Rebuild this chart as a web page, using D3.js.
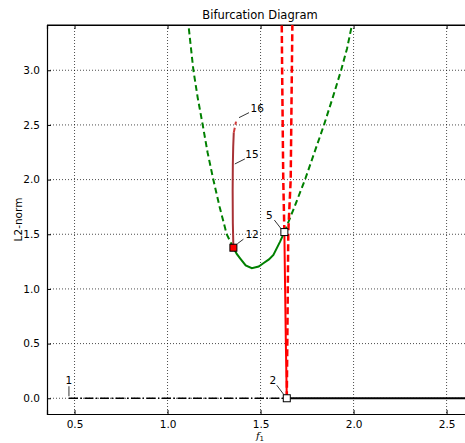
<!DOCTYPE html>
<html>
<head>
<meta charset="utf-8">
<script src="https://cdn.jsdelivr.net/npm/d3@7"></script>
<style>
    body { margin: 0; background: #fff; }
    text { font-family: "DejaVu Sans", sans-serif; fill: #000; }
</style>
</head>
<body>
<svg id="chart" width="465" height="443"></svg>
<script>
// Branch data (f1, L2-norm)
const trivialUnstableF = [0.47, 1.641];
const trivialUnstableN = [0, 0];
const trivialStableF = [1.641, 2.7];
const trivialStableN = [0, 0];

const redSolidF = [1.641, 1.636, 1.632, 1.628];
const redSolidN = [0, 0.5, 1.0, 1.52];
const redDashLeftF = [1.628, 1.622, 1.619, 1.616, 1.614];
const redDashLeftN = [1.52, 2.0, 2.5, 3.0, 3.42];
const redDashRightF = [1.641, 1.646, 1.649, 1.662, 1.667, 1.671];
const redDashRightN = [0, 0.9, 1.52, 2.0, 2.8, 3.42];

const greenSolidF = [1.354, 1.372, 1.39, 1.42, 1.453, 1.49, 1.515, 1.545, 1.569, 1.605, 1.628];
const greenSolidN = [1.377, 1.32, 1.28, 1.215, 1.189, 1.205, 1.235, 1.27, 1.311, 1.432, 1.52];
const greenDashLeftF = [1.354, 1.318, 1.28, 1.246, 1.215, 1.189, 1.162, 1.139, 1.112];
const greenDashLeftN = [1.377, 1.5, 1.75, 2.0, 2.25, 2.5, 2.75, 3.0, 3.42];
const greenDashRightF = [1.628, 1.68, 1.739, 1.79, 1.841, 1.888, 1.933, 1.965, 1.992];
const greenDashRightN = [1.52, 1.74, 2.0, 2.25, 2.5, 2.75, 3.0, 3.2, 3.42];

const brownSolidF = [1.354, 1.351, 1.350, 1.351, 1.353, 1.356];
const brownSolidN = [1.377, 1.6, 1.9, 2.143, 2.3, 2.43];
const brownDashF = [1.356, 1.368];
const brownDashN = [2.43, 2.53];

// Labelled points
const pointLabels = ["1", "2", "5", "12", "15", "16"];
const pointF = [0.47, 1.641, 1.628, 1.354, 1.351, 1.368];
const pointN = [0, 0, 1.52, 1.377, 2.143, 2.53];

// Axis ticks
const xTicks = [0.5, 1.0, 1.5, 2.0, 2.5];
const yTicks = [0.0, 0.5, 1.0, 1.5, 2.0, 2.5, 3.0];

const margin = { top: 25, left: 47, bottom: 29, right: -8 };
const width = 465 - margin.left - margin.right;
const height = 443 - margin.top - margin.bottom;

const svg = d3.select("#chart");
const g = svg.append("g")
    .attr("transform", `translate(${margin.left},${margin.top})`);

const x = d3.scaleLinear().domain([0.352, 2.642]).range([0, width]);
const y = d3.scaleLinear().domain([-0.144, 3.414]).range([height, 0]);

g.append("clipPath").attr("id", "clip")
    .append("rect").attr("width", width).attr("height", height);

// Grid
g.selectAll(".gx").data(xTicks).enter().append("line")
    .attr("x1", d => x(d)).attr("x2", d => x(d))
    .attr("y1", 0).attr("y2", height)
    .attr("stroke", "#000").attr("stroke-width", 0.7)
    .attr("stroke-dasharray", "1,2");
g.selectAll(".gy").data(yTicks).enter().append("line")
    .attr("x1", 0).attr("x2", width)
    .attr("y1", d => y(d)).attr("y2", d => y(d))
    .attr("stroke", "#000").attr("stroke-width", 0.7)
    .attr("stroke-dasharray", "1,2");

// Axes (ticks inside, classic style)
const xAxis = g.append("g").attr("transform", `translate(0,${height})`)
    .call(d3.axisBottom(x).tickValues(xTicks).tickSize(-4).tickPadding(7).tickFormat(d3.format(".1f")));
const xAxisTop = g.append("g")
    .call(d3.axisTop(x).tickValues(xTicks).tickSize(-4).tickFormat(""));
const yAxis = g.append("g")
    .call(d3.axisLeft(y).tickValues(yTicks).tickSize(-4).tickPadding(7).tickFormat(d3.format(".1f")));
[xAxis, xAxisTop, yAxis].forEach(a => {
    a.select(".domain").attr("stroke-width", 1.2);
    a.selectAll("text").attr("font-size", "10.5px").attr("font-family", "DejaVu Sans");
});
// top spine
g.append("line").attr("x1", 0).attr("x2", width).attr("y1", 0).attr("y2", 0)
    .attr("stroke", "#000").attr("stroke-width", 1.2);

const line = d3.line().x(d => x(d[0])).y(d => y(d[1]));
const zipped = (fs, ns) => fs.map((f, i) => [f, ns[i]]);

const plot = g.append("g").attr("clip-path", "url(#clip)");

function branch(fs, ns, color, w, dash) {
    plot.append("path")
        .datum(zipped(fs, ns))
        .attr("d", line)
        .attr("fill", "none")
        .attr("stroke", color)
        .attr("stroke-width", w)
        .attr("stroke-dasharray", dash || null);
}

branch(trivialUnstableF, trivialUnstableN, "#000", 1.5, "9,2.5,1.5,2.5");
branch(trivialStableF, trivialStableN, "#000", 2);
branch(greenDashLeftF, greenDashLeftN, "#008000", 2, "6,3.5");
branch(greenDashRightF, greenDashRightN, "#008000", 2, "6,3.5");
branch(greenSolidF, greenSolidN, "#008000", 2);
branch(redSolidF, redSolidN, "#ff0000", 2);
branch(redDashLeftF, redDashLeftN, "#ff0000", 2.5, "7,3.5");
branch(redDashRightF, redDashRightN, "#ff0000", 2.5, "7,3.5");
branch(brownSolidF, brownSolidN, "#a83236", 2);
branch(brownDashF, brownDashN, "#d03a3a", 2, "5,3");

// Label annotations: leader line start/end and text anchor, relative to the point
const labelOffsets = {
    "1":  { l: [0, -2, 0, -12], t: [0, -18], anchor: "middle" },
    "2":  { l: [-1, -1, -10, -13], t: [-14, -18], anchor: "middle" },
    "5":  { l: [-3, -3, -10, -12], t: [-15, -17], anchor: "middle" },
    "12": { l: [4, -4, 10, -8.5], t: [12, -13], anchor: "start" },
    "15": { l: [2, 0, 12, -5], t: [12.5, -10], anchor: "start" },
    "16": { l: [3, -4, 13, -9], t: [14.5, -13.5], anchor: "start" }
};

const labels = g.append("g");
pointLabels.forEach((lab, i) => {
    const px = x(pointF[i]), py = y(pointN[i]);
    const o = labelOffsets[lab];
    labels.append("line")
        .attr("x1", px + o.l[0]).attr("y1", py + o.l[1])
        .attr("x2", px + o.l[2]).attr("y2", py + o.l[3])
        .attr("stroke", "#000").attr("stroke-width", 0.8);
    labels.append("text")
        .attr("x", px + o.t[0]).attr("y", py + o.t[1])
        .attr("dy", "0.35em")
        .attr("text-anchor", o.anchor)
        .attr("font-size", "10.5px")
        .text(lab);
});

// Markers at special points
const markerFill = { "2": "#fff", "5": "#fff", "12": "#ff0000" };
Object.keys(markerFill).forEach(lab => {
    const i = pointLabels.indexOf(lab);
    g.append("rect")
        .attr("x", x(pointF[i]) - 3.5).attr("y", y(pointN[i]) - 3.5)
        .attr("width", 7).attr("height", 7)
        .attr("fill", markerFill[lab])
        .attr("stroke", "#000").attr("stroke-width", 1);
});

// Title and axis labels
svg.append("text")
    .attr("x", margin.left + width / 2).attr("y", 19)
    .attr("text-anchor", "middle")
    .attr("font-size", "11.5px")
    .text("Bifurcation Diagram");

svg.append("text")
    .attr("transform", `translate(22,${margin.top + height / 2}) rotate(-90)`)
    .attr("text-anchor", "middle")
    .attr("font-size", "10.5px")
    .text("L2-norm");

const xl = svg.append("text")
    .attr("x", margin.left + width / 2).attr("y", 439)
    .attr("text-anchor", "middle")
    .attr("font-size", "10px");
xl.append("tspan").attr("font-family", "DejaVu Serif").attr("font-style", "italic").text("f");
xl.append("tspan").attr("font-size", "7px").attr("dy", "2").text("1");
</script>
</body>
</html>
